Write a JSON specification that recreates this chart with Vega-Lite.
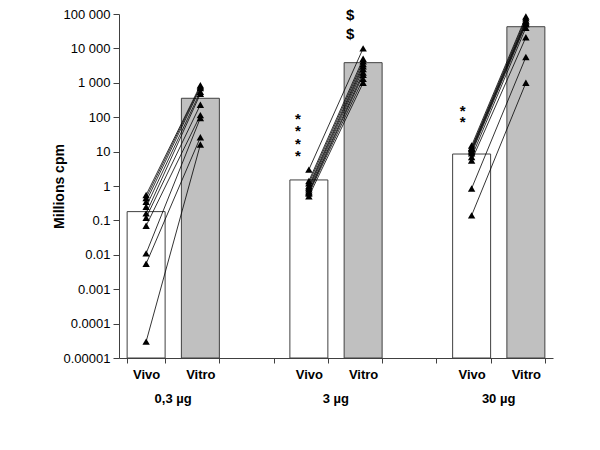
{
  "$schema": "https://vega.github.io/schema/vega-lite/v6.json",
  "width": 434,
  "height": 344,
  "autosize": {"type": "none"},
  "padding": {"left": 119, "top": 14, "right": 47, "bottom": 92},
  "background": "white",
  "config": {
    "view": {"stroke": null},
    "font": "Liberation Sans",
    "axis": {"domainColor": "#404040", "tickColor": "#404040", "labelColor": "#000000", "grid": false, "titleColor": "#000000"}
  },
  "datasets": {
    "bars": [
      {"cat": "Vivo|0,3", "cond": "Vivo", "value": 0.18},
      {"cat": "Vitro|0,3", "cond": "Vitro", "value": 355},
      {"cat": "Vivo|3", "cond": "Vivo", "value": 1.5},
      {"cat": "Vitro|3", "cond": "Vitro", "value": 3850},
      {"cat": "Vivo|30", "cond": "Vivo", "value": 8.5},
      {"cat": "Vitro|30", "cond": "Vitro", "value": 42700}
    ],
    "points": [
      {"id": "a1", "cat": "Vivo|0,3", "value": 0.55}, {"id": "a1", "cat": "Vitro|0,3", "value": 850},
      {"id": "a2", "cat": "Vivo|0,3", "value": 0.45}, {"id": "a2", "cat": "Vitro|0,3", "value": 780},
      {"id": "a3", "cat": "Vivo|0,3", "value": 0.35}, {"id": "a3", "cat": "Vitro|0,3", "value": 700},
      {"id": "a4", "cat": "Vivo|0,3", "value": 0.25}, {"id": "a4", "cat": "Vitro|0,3", "value": 550},
      {"id": "a5", "cat": "Vivo|0,3", "value": 0.16}, {"id": "a5", "cat": "Vitro|0,3", "value": 480},
      {"id": "a6", "cat": "Vivo|0,3", "value": 0.12}, {"id": "a6", "cat": "Vitro|0,3", "value": 230},
      {"id": "a7", "cat": "Vivo|0,3", "value": 0.07}, {"id": "a7", "cat": "Vitro|0,3", "value": 115},
      {"id": "a8", "cat": "Vivo|0,3", "value": 0.011}, {"id": "a8", "cat": "Vitro|0,3", "value": 95},
      {"id": "a9", "cat": "Vivo|0,3", "value": 0.0055}, {"id": "a9", "cat": "Vitro|0,3", "value": 26},
      {"id": "a10", "cat": "Vivo|0,3", "value": 0.00003}, {"id": "a10", "cat": "Vitro|0,3", "value": 16},
      {"id": "b1", "cat": "Vivo|3", "value": 3.0}, {"id": "b1", "cat": "Vitro|3", "value": 10000},
      {"id": "b2", "cat": "Vivo|3", "value": 1.4}, {"id": "b2", "cat": "Vitro|3", "value": 5000},
      {"id": "b3", "cat": "Vivo|3", "value": 1.2}, {"id": "b3", "cat": "Vitro|3", "value": 4200},
      {"id": "b4", "cat": "Vivo|3", "value": 1.0}, {"id": "b4", "cat": "Vitro|3", "value": 3500},
      {"id": "b5", "cat": "Vivo|3", "value": 0.9}, {"id": "b5", "cat": "Vitro|3", "value": 3000},
      {"id": "b6", "cat": "Vivo|3", "value": 0.8}, {"id": "b6", "cat": "Vitro|3", "value": 2500},
      {"id": "b7", "cat": "Vivo|3", "value": 0.7}, {"id": "b7", "cat": "Vitro|3", "value": 2000},
      {"id": "b8", "cat": "Vivo|3", "value": 0.65}, {"id": "b8", "cat": "Vitro|3", "value": 1700},
      {"id": "b9", "cat": "Vivo|3", "value": 0.6}, {"id": "b9", "cat": "Vitro|3", "value": 1300},
      {"id": "b10", "cat": "Vivo|3", "value": 0.5}, {"id": "b10", "cat": "Vitro|3", "value": 1000},
      {"id": "c1", "cat": "Vivo|30", "value": 15}, {"id": "c1", "cat": "Vitro|30", "value": 85000},
      {"id": "c2", "cat": "Vivo|30", "value": 13}, {"id": "c2", "cat": "Vitro|30", "value": 75000},
      {"id": "c3", "cat": "Vivo|30", "value": 12}, {"id": "c3", "cat": "Vitro|30", "value": 65000},
      {"id": "c4", "cat": "Vivo|30", "value": 11}, {"id": "c4", "cat": "Vitro|30", "value": 60000},
      {"id": "c5", "cat": "Vivo|30", "value": 10}, {"id": "c5", "cat": "Vitro|30", "value": 55000},
      {"id": "c6", "cat": "Vivo|30", "value": 9}, {"id": "c6", "cat": "Vitro|30", "value": 50000},
      {"id": "c7", "cat": "Vivo|30", "value": 7}, {"id": "c7", "cat": "Vitro|30", "value": 40000},
      {"id": "c8", "cat": "Vivo|30", "value": 5.5}, {"id": "c8", "cat": "Vitro|30", "value": 21000},
      {"id": "c9", "cat": "Vivo|30", "value": 0.85}, {"id": "c9", "cat": "Vitro|30", "value": 5600},
      {"id": "c10", "cat": "Vivo|30", "value": 0.14}, {"id": "c10", "cat": "Vitro|30", "value": 1000}
    ],
    "annot": [
      {"cat": "Vivo|3", "value": 89, "label": "*\n*\n*\n*"},
      {"cat": "Vitro|3", "value": 96700, "label": "$\n$"},
      {"cat": "Vivo|30", "value": 151, "label": "*\n*"}
    ]
  },
  "encoding": {
    "y": {
      "field": "value",
      "type": "quantitative",
      "scale": {"type": "log", "domain": [0.00001, 100000], "nice": false},
      "axis": {
        "title": "Millions cpm",
        "values": [0.00001, 0.0001, 0.001, 0.01, 0.1, 1, 10, 100, 1000, 10000, 100000],
        "labelExpr": "datum.value >= 100000 ? '100 000' : datum.value >= 10000 ? '10 000' : datum.value >= 1000 ? '1 000' : datum.value >= 1 ? format(datum.value, 'd') : format(datum.value, '~f')",
        "labelFontSize": 13,
        "labelPadding": 3,
        "tickSize": 6,
        "titleFontSize": 14,
        "titleFontWeight": "bold",
        "titleX": -60,
        "titleBaseline": "middle",
        "labelOverlap": false
      }
    }
  },
  "layer": [
    {
      "data": {"name": "bars"},
      "mark": {"type": "bar", "stroke": "#404040", "strokeWidth": 1},
      "encoding": {
        "x": {
          "field": "cat", "type": "nominal",
          "scale": {"domain": ["Vivo|0,3", "Vitro|0,3", "g1", "Vivo|3", "Vitro|3", "g2", "Vivo|30", "Vitro|30"], "paddingInner": 0.3, "paddingOuter": 0.15},
          "axis": {
            "orient": "bottom",
            "title": null,
            "tickBand": "extent",
            "tickSize": 5,
            "labelAngle": 0,
            "labelPadding": 5,
            "labelFontSize": 13,
            "labelFontWeight": "bold",
            "labelOverlap": false,
            "labelExpr": "split(datum.value, '|')[0] == 'Vivo' ? 'Vivo' : split(datum.value, '|')[0] == 'Vitro' ? 'Vitro' : ''"
          }
        },
        "y2": {"datum": 0.00001},
        "fill": {"field": "cond", "type": "nominal", "scale": {"domain": ["Vivo", "Vitro"], "range": ["#ffffff", "#c0c0c0"]}, "legend": null}
      }
    },
    {
      "data": {"name": "points"},
      "mark": {"type": "line", "color": "#000000", "strokeWidth": 0.8},
      "encoding": {
        "x": {
          "field": "cat", "type": "nominal",
          "scale": {"domain": ["Vivo|0,3", "Vitro|0,3", "g1", "Vivo|3", "Vitro|3", "g2", "Vivo|30", "Vitro|30"], "paddingInner": 0.3, "paddingOuter": 0.15},
          "axis": {
            "orient": "bottom",
            "title": null,
            "ticks": false,
            "tickSize": 0,
            "domain": false,
            "labelAngle": 0,
            "labelPadding": 34,
            "labelOffset": 27,
            "labelFontSize": 13,
            "labelFontWeight": "bold",
            "labelOverlap": false,
            "labelExpr": "datum.value == 'Vivo|0,3' ? '0,3 µg' : datum.value == 'Vivo|3' ? '3 µg' : datum.value == 'Vivo|30' ? '30 µg' : ''"
          }
        },
        "detail": {"field": "id", "type": "nominal"}
      }
    },
    {
      "data": {"name": "points"},
      "mark": {"type": "point", "shape": "triangle-up", "filled": true, "color": "#000000", "size": 55, "opacity": 1},
      "encoding": {
        "x": {
          "field": "cat", "type": "nominal",
          "scale": {"domain": ["Vivo|0,3", "Vitro|0,3", "g1", "Vivo|3", "Vitro|3", "g2", "Vivo|30", "Vitro|30"], "paddingInner": 0.3, "paddingOuter": 0.15},
          "axis": null
        }
      }
    },
    {
      "data": {"name": "annot"},
      "transform": [{"filter": "datum.cat == 'Vivo|3'"}],
      "mark": {"type": "text", "fontSize": 15, "fontWeight": "bold", "color": "#000000", "baseline": "middle", "lineBreak": "\n", "lineHeight": 12.3, "align": "center", "dx": -11},
      "encoding": {
        "x": {
          "field": "cat", "type": "nominal",
          "scale": {"domain": ["Vivo|0,3", "Vitro|0,3", "g1", "Vivo|3", "Vitro|3", "g2", "Vivo|30", "Vitro|30"], "paddingInner": 0.3, "paddingOuter": 0.15},
          "axis": null
        },
        "text": {"field": "label"}
      }
    },
    {
      "data": {"name": "annot"},
      "transform": [{"filter": "datum.cat == 'Vitro|3'"}],
      "mark": {"type": "text", "fontSize": 15, "fontWeight": "bold", "color": "#000000", "baseline": "middle", "lineBreak": "\n", "lineHeight": 19, "align": "center", "dx": -13},
      "encoding": {
        "x": {
          "field": "cat", "type": "nominal",
          "scale": {"domain": ["Vivo|0,3", "Vitro|0,3", "g1", "Vivo|3", "Vitro|3", "g2", "Vivo|30", "Vitro|30"], "paddingInner": 0.3, "paddingOuter": 0.15},
          "axis": null
        },
        "text": {"field": "label"}
      }
    },
    {
      "data": {"name": "annot"},
      "transform": [{"filter": "datum.cat == 'Vivo|30'"}],
      "mark": {"type": "text", "fontSize": 15, "fontWeight": "bold", "color": "#000000", "baseline": "middle", "lineBreak": "\n", "lineHeight": 11, "align": "center", "dx": -9},
      "encoding": {
        "x": {
          "field": "cat", "type": "nominal",
          "scale": {"domain": ["Vivo|0,3", "Vitro|0,3", "g1", "Vivo|3", "Vitro|3", "g2", "Vivo|30", "Vitro|30"], "paddingInner": 0.3, "paddingOuter": 0.15},
          "axis": null
        },
        "text": {"field": "label"}
      }
    }
  ],
  "resolve": {"axis": {"x": "independent"}}
}
